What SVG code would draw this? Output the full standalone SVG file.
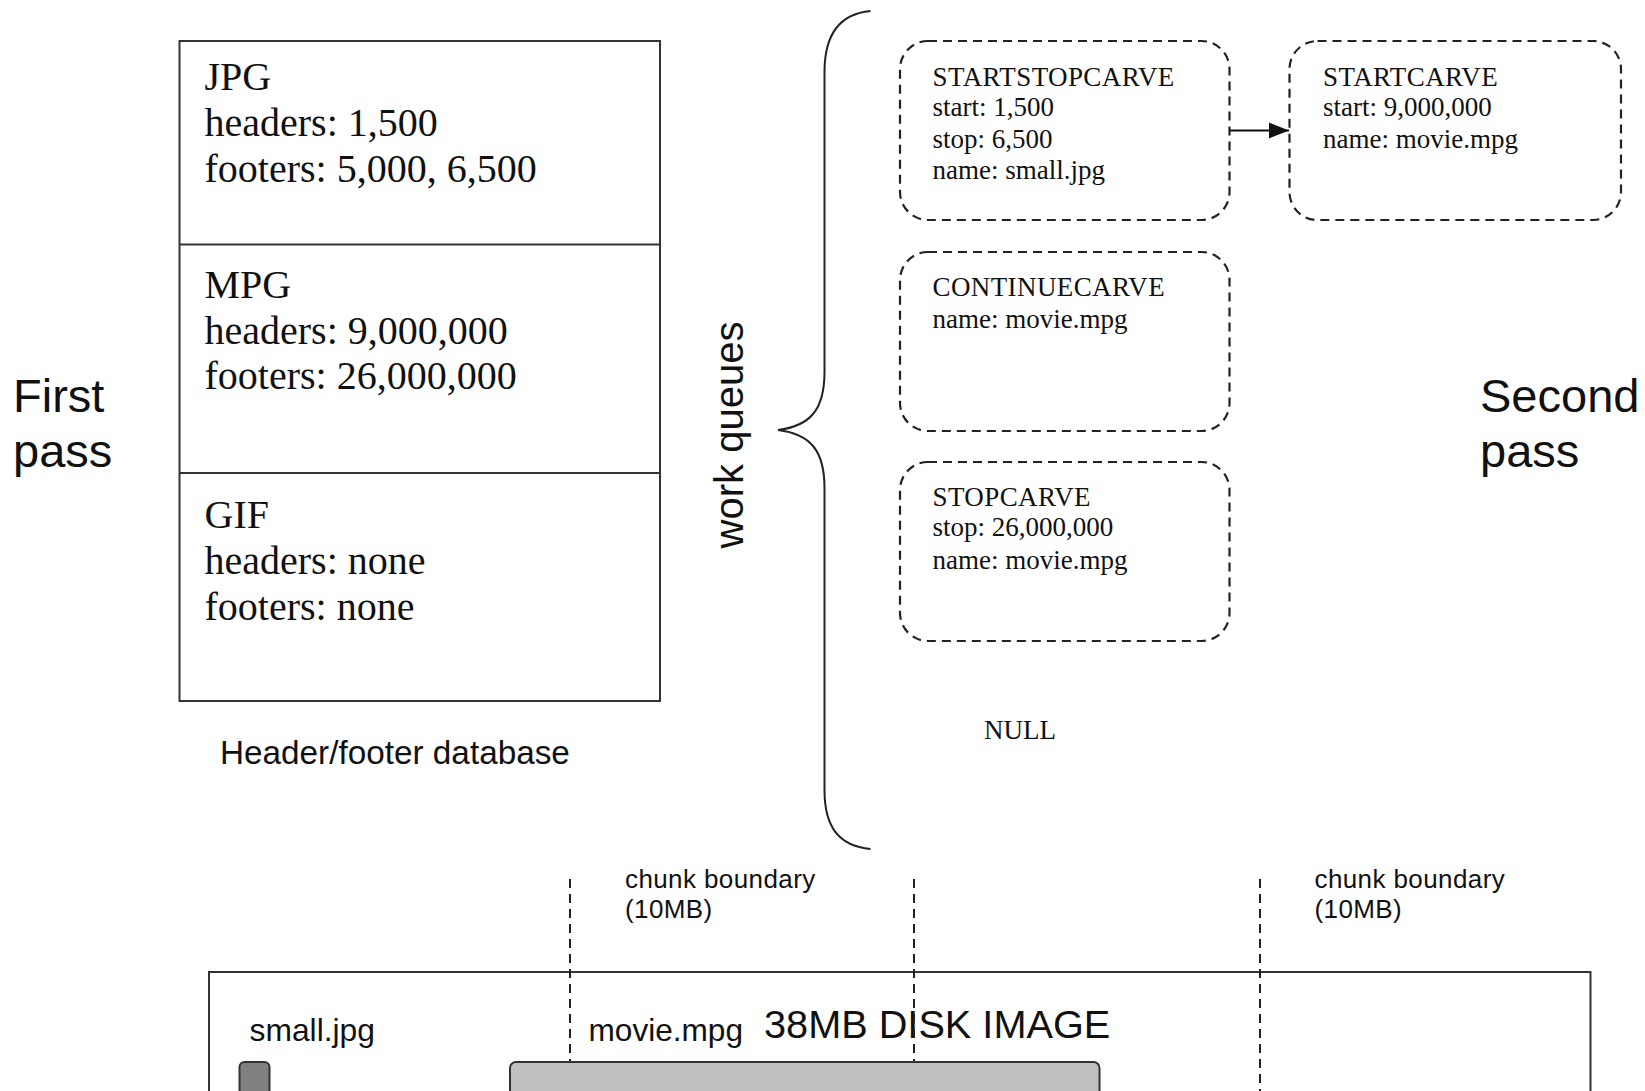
<svg xmlns="http://www.w3.org/2000/svg" width="1645" height="1091" viewBox="0 0 1645 1091">
  <style>
    .db { font-family: "Liberation Serif", "Times New Roman", serif; font-size: 40px; fill: #111; }
    .q { font-family: "Liberation Serif", "Times New Roman", serif; font-size: 27px; fill: #111; }
    .qt { letter-spacing: 0.4px; }
    .sans { font-family: "Liberation Sans", Arial, sans-serif; fill: #111; }
    .big { font-size: 47px; }
    .lbl { font-size: 33.3px; }
    .chunk { font-size: 26px; letter-spacing: 0.4px; }
    .frame { fill: #fff; stroke: #333; stroke-width: 2; }
    .queue { fill: none; stroke: #222; stroke-width: 2.2; stroke-dasharray: 9 6; }
    .bound { fill: none; stroke: #222; stroke-width: 2; stroke-dasharray: 9 6; }
    .brace { fill: none; stroke: #222; stroke-width: 2; }
  </style>
  <defs>
    <marker id="arrowhead" viewBox="0 0 20 20" refX="20" refY="10" markerWidth="20" markerHeight="20" markerUnits="userSpaceOnUse" orient="auto">
      <path d="M0,2 L20,10 L0,18 z" fill="#111"/>
    </marker>
  </defs>
  <rect width="1645" height="1091" fill="#fff"/>

  <!-- pass labels -->
  <g id="first-pass">
    <text class="sans big" x="13" y="412">First</text>
    <text class="sans big" x="13" y="467">pass</text>
  </g>
  <g id="second-pass">
    <text class="sans big" x="1480" y="412">Second</text>
    <text class="sans big" x="1480" y="467">pass</text>
  </g>

  <!-- header/footer database -->
  <g id="database">
    <rect class="frame" x="179.5" y="41" width="480.5" height="660"/>
    <line x1="179.5" y1="244.5" x2="660" y2="244.5" stroke="#333" stroke-width="2"/>
    <line x1="179.5" y1="473" x2="660" y2="473" stroke="#333" stroke-width="2"/>
    <g id="db-jpg">
      <text class="db" x="204.5" y="90">JPG</text>
      <text class="db" x="204.5" y="136">headers: 1,500</text>
      <text class="db" x="204.5" y="181.5">footers: 5,000, 6,500</text>
    </g>
    <g id="db-mpg">
      <text class="db" x="204.5" y="298">MPG</text>
      <text class="db" x="204.5" y="344">headers: 9,000,000</text>
      <text class="db" x="204.5" y="389">footers: 26,000,000</text>
    </g>
    <g id="db-gif">
      <text class="db" x="204.5" y="528">GIF</text>
      <text class="db" x="204.5" y="574">headers: none</text>
      <text class="db" x="204.5" y="620">footers: none</text>
    </g>
  </g>
  <text id="database-label" class="sans lbl" x="220" y="764">Header/footer database</text>

  <!-- work queues brace -->
  <g id="work-queues">
    <path class="brace" d="M870.5,11 C838,14 824.5,36 824.5,72 L824.5,372 C824.5,410 810,426 778,430 C810,434 824.5,450 824.5,488 L824.5,790 C824.5,826 838,846 870.5,849"/>
    <text class="sans" font-size="40" transform="translate(743,435) rotate(-90)" text-anchor="middle">work queues</text>
  </g>

  <!-- queue entries -->
  <g id="startstopcarve">
    <rect class="queue" x="900" y="41" width="329.5" height="179" rx="28" ry="28"/>
    <text class="q qt" x="932.5" y="86">STARTSTOPCARVE</text>
    <text class="q" x="932.5" y="115.5">start: 1,500</text>
    <text class="q" x="932.5" y="147.5">stop: 6,500</text>
    <text class="q" x="932.5" y="178.5">name: small.jpg</text>
  </g>
  <g id="startcarve">
    <rect class="queue" x="1289.5" y="41" width="331.5" height="179" rx="28" ry="28"/>
    <text class="q qt" x="1323" y="86">STARTCARVE</text>
    <text class="q" x="1323" y="115.5">start: 9,000,000</text>
    <text class="q" x="1323" y="147.5">name: movie.mpg</text>
  </g>
  <g id="continuecarve">
    <rect class="queue" x="900" y="252" width="329.5" height="179" rx="28" ry="28"/>
    <text class="q qt" x="932.5" y="296">CONTINUECARVE</text>
    <text class="q" x="932.5" y="328">name: movie.mpg</text>
  </g>
  <g id="stopcarve">
    <rect class="queue" x="900" y="462" width="329.5" height="179" rx="28" ry="28"/>
    <text class="q qt" x="932.5" y="505.5">STOPCARVE</text>
    <text class="q" x="932.5" y="536">stop: 26,000,000</text>
    <text class="q" x="932.5" y="568.5">name: movie.mpg</text>
  </g>
  <g id="null">
    <text class="q" x="984" y="738.5">NULL</text>
  </g>

  <!-- connectors -->
  <g id="connectors">
    <line x1="1229.5" y1="130.5" x2="1289" y2="130.5" stroke="#111" stroke-width="2.2" marker-end="url(#arrowhead)"/>
  </g>

  <!-- disk image -->
  <g id="disk-image">
    <rect class="frame" x="209" y="972" width="1381.5" height="140"/>
    <text class="sans" font-size="39.7" x="764" y="1037.5">38MB DISK IMAGE</text>
  </g>

  <!-- chunk boundaries -->
  <g id="chunk-boundaries">
    <line class="bound" x1="570" y1="879" x2="570" y2="1062"/>
    <line class="bound" x1="914" y1="879" x2="914" y2="1062"/>
    <line class="bound" x1="1260" y1="879" x2="1260" y2="1091"/>
    <text class="sans chunk" x="625" y="887.5">chunk boundary</text>
    <text class="sans chunk" x="625" y="918">(10MB)</text>
    <text class="sans chunk" x="1314.5" y="887.5">chunk boundary</text>
    <text class="sans chunk" x="1314.5" y="918">(10MB)</text>
  </g>

  <!-- carved files on the disk -->
  <g id="small-jpg">
    <text class="sans" font-size="31.8" x="249.5" y="1040.5">small.jpg</text>
    <rect x="239.5" y="1062" width="30" height="40" rx="5" ry="5" fill="#808080" stroke="#333" stroke-width="2"/>
  </g>
  <g id="movie-mpg">
    <text class="sans" font-size="31.6" x="588.5" y="1040.5">movie.mpg</text>
    <rect x="510" y="1062" width="589.5" height="40" rx="6" ry="6" fill="#c0c0c0" stroke="#333" stroke-width="2"/>
  </g>
</svg>
